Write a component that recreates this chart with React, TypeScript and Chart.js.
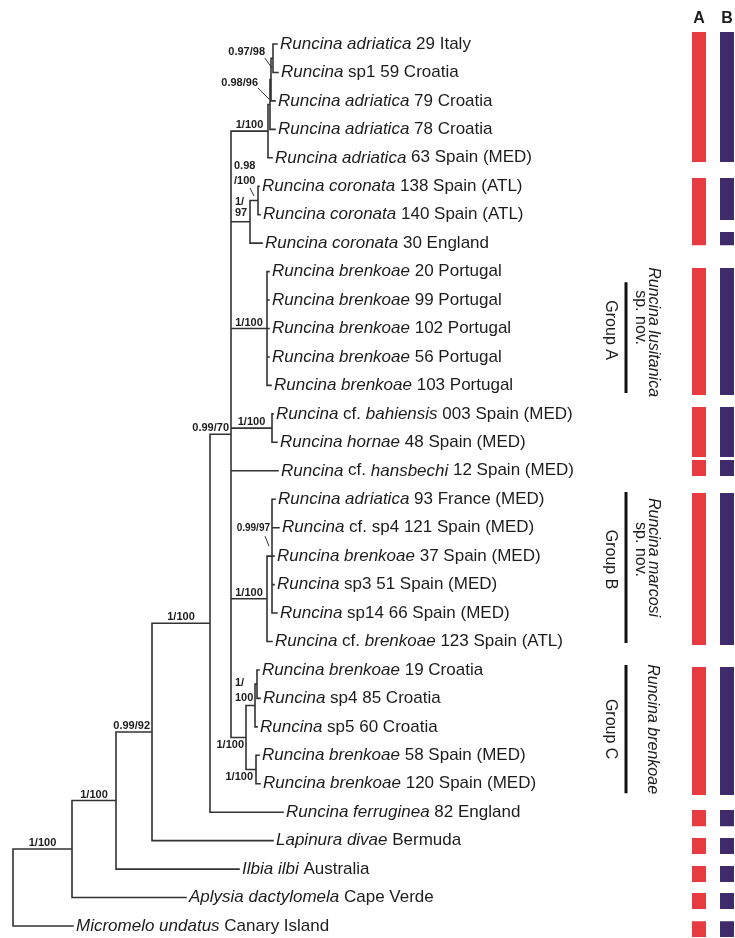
import React, { useEffect, useRef } from "react";
import { Chart, registerables } from "chart.js";

Chart.register(...registerables);

// ---------------- DATA ----------------
// Leaf labels (text between * is italic), top to bottom
const taxa: string[] = [
  "*Runcina adriatica* 29 Italy",
  "*Runcina* sp1 59 Croatia",
  "*Runcina adriatica* 79 Croatia",
  "*Runcina adriatica* 78 Croatia",
  "*Runcina adriatica* 63 Spain (MED)",
  "*Runcina coronata* 138 Spain (ATL)",
  "*Runcina coronata* 140 Spain (ATL)",
  "*Runcina coronata* 30 England",
  "*Runcina brenkoae* 20 Portugal",
  "*Runcina brenkoae* 99 Portugal",
  "*Runcina brenkoae* 102 Portugal",
  "*Runcina brenkoae* 56 Portugal",
  "*Runcina brenkoae* 103 Portugal",
  "*Runcina* cf. *bahiensis* 003 Spain (MED)",
  "*Runcina hornae* 48 Spain (MED)",
  "*Runcina* cf. *hansbechi* 12 Spain (MED)",
  "*Runcina adriatica* 93 France (MED)",
  "*Runcina* cf. sp4 121 Spain (MED)",
  "*Runcina brenkoae* 37 Spain (MED)",
  "*Runcina* sp3 51 Spain (MED)",
  "*Runcina* sp14 66 Spain (MED)",
  "*Runcina* cf. *brenkoae* 123 Spain (ATL)",
  "*Runcina brenkoae* 19 Croatia",
  "*Runcina* sp4 85 Croatia",
  "*Runcina* sp5 60 Croatia",
  "*Runcina brenkoae* 58 Spain (MED)",
  "*Runcina brenkoae* 120 Spain (MED)",
  "*Runcina ferruginea* 82 England",
  "*Lapinura divae* Bermuda",
  "*Ilbia ilbi* Australia",
  "*Aplysia dactylomela* Cape Verde",
  "*Micromelo undatus* Canary Island",
];

// Depth (distance from root) of each leaf tip
const tipDepth: number[] = [
  2.64, 2.65, 2.62, 2.62, 2.59, 2.46, 2.47, 2.49, 2.56, 2.56, 2.56, 2.56, 2.58,
  2.6, 2.64, 2.65, 2.62, 2.66, 2.61, 2.61, 2.64, 2.59, 2.46, 2.47, 2.44, 2.46,
  2.47, 2.7, 2.6, 2.26, 1.73, 0.6,
];

// Internal nodes
const nodeIds: string[] = [
  "R", "N1", "N2", "N3", "N4", "N5", "Nadr", "Nc", "Nb", "Na", "Ncor", "Ncor2",
  "Npor", "Nbah", "NgB", "NgB2", "NgC", "Ncro", "Ncro2", "Nspa",
];
const nodeDepth: number[] = [
  0, 0.59, 1.03, 1.39, 1.97, 2.18, 2.55, 2.57, 2.58, 2.6, 2.37, 2.45, 2.54,
  2.59, 2.54, 2.59, 2.33, 2.42, 2.44, 2.43,
];
const nodeChildren: string[][] = [
  ["N1", "L31"],
  ["N2", "L30"],
  ["N3", "L29"],
  ["N4", "L28"],
  ["N5", "L27"],
  ["Nadr", "Ncor", "Npor", "Nbah", "L15", "NgB", "NgC"],
  ["Nc", "L4"],
  ["Nb", "L3"],
  ["Na", "L2"],
  ["L0", "L1"],
  ["Ncor2", "L7"],
  ["L5", "L6"],
  ["L8", "L9", "L10", "L11", "L12"],
  ["L13", "L14"],
  ["NgB2", "L21"],
  ["L16", "L17", "L18", "L19", "L20"],
  ["Ncro", "Nspa"],
  ["Ncro2", "L24"],
  ["L22", "L23"],
  ["L25", "L26"],
];
const nodeSupport: string[] = [
  "", "1/100", "1/100", "0.99/92", "1/100", "0.99/70", "1/100", "", "0.98/96",
  "0.97/98", "1/\n97", "0.98\n/100", "1/100", "1/100", "1/100", "0.99/97",
  "1/100", "1/\n100", "", "1/100",
];

// Marker columns A and B: extents in leaf-row units
const columnHeaders: string[] = ["A", "B"];
const markerA: [number, number][] = [
  [-0.42, 4.15], [4.71, 7.07], [7.87, 12.34], [12.76, 14.52], [14.62, 15.18],
  [15.78, 21.12], [21.9, 26.4], [26.92, 27.49], [27.91, 28.47], [28.89, 29.45],
  [29.84, 30.4], [30.83, 31.39],
];
const markerB: [number, number][] = [
  [-0.42, 4.15], [4.71, 6.19], [6.61, 7.07], [7.87, 12.34], [12.76, 14.52],
  [14.62, 15.18], [15.78, 21.12], [21.9, 26.4], [26.92, 27.49], [27.91, 28.47],
  [28.89, 29.45], [29.84, 30.4], [30.83, 31.39],
];

// Named clades (right side)
const cladeNames: string[] = ["Runcina lusitanica", "Runcina marcosi", "Runcina brenkoae"];
const cladeSub: string[] = ["sp. nov.", "sp. nov.", ""];
const cladeGroups: string[] = ["Group A", "Group B", "Group C"];
const cladeSpans: [number, number][] = [[8.37, 12.27], [15.75, 21.05], [21.83, 26.33]];

// ---------------- LAYOUT / STYLE ----------------
const W = 735;
const H = 938;
const FONT = '"Liberation Sans", Arial, sans-serif';
const X_MIN = -0.13;
const X_MAX = 7.22;
const Y_MIN = -1.5466;
const Y_MAX = 31.4218;
const COL_X = [6.86, 7.14];
const CLADE_BAR_X = 6.13;
const RED = "#e63b41";
const PURPLE = "#3f2b69";
const LINE = "#333333";
const TEXT = "#1c1c1c";

type Pos = { x: number; y: number };

function buildTree() {
  const pos: Record<string, Pos> = {};
  const parentOf: Record<string, string> = {};
  nodeIds.forEach((id, i) => nodeChildren[i].forEach((c) => (parentOf[c] = id)));
  const get = (id: string): Pos => {
    if (pos[id]) return pos[id];
    if (id[0] === "L") {
      const i = parseInt(id.slice(1), 10);
      pos[id] = { x: tipDepth[i], y: i };
    } else {
      const i = nodeIds.indexOf(id);
      const ch = nodeChildren[i].map(get);
      pos[id] = { x: nodeDepth[i], y: (ch[0].y + ch[ch.length - 1].y) / 2 };
    }
    return pos[id];
  };
  nodeIds.forEach(get);
  taxa.forEach((_, i) => get("L" + i));
  const segs: any[] = [];
  nodeIds.forEach((id, i) => {
    const p = pos[id];
    const ch = nodeChildren[i].map((c) => pos[c]);
    segs.push({ x: p.x, y: ch[0].y }, { x: p.x, y: ch[ch.length - 1].y }, { x: p.x, y: null });
    ch.forEach((c) => {
      segs.push({ x: p.x, y: c.y }, { x: c.x, y: c.y }, { x: c.x, y: null });
    });
  });
  return { pos, parentOf, segs };
}

const columnData = (x: number, spans: [number, number][]) =>
  spans.flatMap(([a, b]) => [{ x, y: a }, { x, y: b }, { x, y: null }]);

// special placements for support labels (pixel offsets from node)
const special: Record<string, { align: CanvasTextAlign; dx: number; dy: number[]; lead?: number[]; size?: number }> = {
  Na: { align: "right", dx: -8, dy: [-6], lead: [-8, 0, -1, 10] },
  Nb: { align: "right", dx: -13, dy: [3.5], lead: [-13, 8.5, -2, 19.5] },
  Ncor2: { align: "left", dx: -24, dy: [-34.5, -19.5], lead: [-8, -12.5, -4, -4.5] },
  Ncor: { align: "left", dx: -15, dy: [-20, -9] },
  Ncro: { align: "left", dx: -20, dy: [-22.6, -7.6] },
  NgC: { align: "right", dx: -2, dy: [7.5] },
  Nspa: { align: "right", dx: -3, dy: [7.5] },
  NgB2: { align: "right", dx: -2, dy: [-28], lead: [-7, -20, -3, -10], size: 10 },
};
const cladeTextOffsets = [
  { name: -5.5, sub: -20, group: -7.5 },
  { name: -10, sub: -18, group: -8 },
  { name: 0, sub: 0, group: 0 },
];

export default function App() {
  const ref = useRef<HTMLCanvasElement | null>(null);

  useEffect(() => {
    document.body.style.margin = "0";
    const canvas = ref.current;
    if (!canvas) return;
    const { pos, parentOf, segs } = buildTree();

    const bgPlugin = {
      id: "bg",
      beforeDraw(chart: any) {
        const c = chart.ctx;
        c.save();
        c.fillStyle = "#ffffff";
        c.fillRect(0, 0, chart.width, chart.height);
        c.restore();
      },
    };

    const textPlugin = {
      id: "treeText",
      afterDatasetsDraw(chart: any) {
        const c: CanvasRenderingContext2D = chart.ctx;
        const xs = chart.scales.x;
        const ys = chart.scales.y;
        c.save();
        c.fillStyle = TEXT;
        // leaf labels
        c.textBaseline = "middle";
        c.textAlign = "left";
        taxa.forEach((t, i) => {
          let cx = xs.getPixelForValue(tipDepth[i]) + 3;
          const cy = ys.getPixelForValue(i);
          t.split("*").forEach((part, k) => {
            if (!part) return;
            c.font = `${k % 2 === 1 ? "italic " : ""}17px ${FONT}`;
            c.fillText(part, cx, cy);
            cx += c.measureText(part).width;
          });
        });
        // support values
        c.strokeStyle = LINE;
        c.lineWidth = 1;
        nodeIds.forEach((id, i) => {
          const label = nodeSupport[i];
          if (!label) return;
          const p = pos[id];
          const nx = xs.getPixelForValue(p.x);
          const ny = ys.getPixelForValue(p.y);
          const sp = special[id];
          if (sp) {
            c.font = `bold ${sp.size || 11}px ${FONT}`;
            c.textAlign = sp.align;
            c.textBaseline = "middle";
            label.split("\n").forEach((line, k) => {
              c.fillText(line, nx + sp.dx, ny + sp.dy[k]);
            });
            if (sp.lead) {
              c.beginPath();
              c.moveTo(nx + sp.lead[0], ny + sp.lead[1]);
              c.lineTo(nx + sp.lead[2], ny + sp.lead[3]);
              c.stroke();
            }
          } else {
            c.font = `bold 11px ${FONT}`;
            c.textAlign = "center";
            c.textBaseline = "alphabetic";
            const parent = pos[parentOf[id]];
            const ppx = xs.getPixelForValue(parent.x);
            const w = c.measureText(label).width;
            let cx = (ppx + nx) / 2;
            const over = cx + w / 2 - (nx - 2);
            if (over > 0) cx -= over;
            c.fillText(label, cx, ny - 3);
          }
        });
        // column headers
        c.font = `bold 16px ${FONT}`;
        c.textAlign = "center";
        c.textBaseline = "middle";
        columnHeaders.forEach((h, k) => {
          c.fillText(h, xs.getPixelForValue(COL_X[k]), 19);
        });
        // clade names (rotated)
        const barPx = xs.getPixelForValue(CLADE_BAR_X);
        cladeNames.forEach((name, k) => {
          const mid = (ys.getPixelForValue(cladeSpans[k][0]) + ys.getPixelForValue(cladeSpans[k][1])) / 2;
          const off = cladeTextOffsets[k];
          const put = (txt: string, x: number, y: number, italic: boolean) => {
            if (!txt) return;
            c.save();
            c.translate(x, y);
            c.rotate(Math.PI / 2);
            c.font = `${italic ? "italic " : ""}16px ${FONT}`;
            c.textAlign = "center";
            c.textBaseline = "middle";
            c.fillText(txt, 0, 0);
            c.restore();
          };
          const hasSub = !!cladeSub[k];
          put(name, barPx + (hasSub ? 27 : 26), mid + off.name, true);
          put(cladeSub[k], barPx + 14, mid + off.sub, false);
          put(cladeGroups[k], barPx - 16, mid + off.group, false);
        });
        c.restore();
      },
    };

    const chart = new Chart(canvas, {
      type: "line",
      data: {
        datasets: [
          {
            label: "branches",
            data: segs,
            borderColor: LINE,
            borderWidth: 1.6,
            pointRadius: 0,
            spanGaps: false,
            tension: 0,
            borderCapStyle: "square",
            borderJoinStyle: "miter",
          },
          {
            label: "A",
            data: columnData(COL_X[0], markerA),
            borderColor: RED,
            borderWidth: 14,
            pointRadius: 0,
            spanGaps: false,
            borderCapStyle: "butt",
          },
          {
            label: "B",
            data: columnData(COL_X[1], markerB),
            borderColor: PURPLE,
            borderWidth: 14,
            pointRadius: 0,
            spanGaps: false,
            borderCapStyle: "butt",
          },
          {
            label: "clades",
            data: columnData(CLADE_BAR_X, cladeSpans),
            borderColor: "#111111",
            borderWidth: 3,
            pointRadius: 0,
            spanGaps: false,
            borderCapStyle: "butt",
          },
        ] as any,
      },
      options: {
        animation: false,
        responsive: false,
        events: [],
        layout: { padding: 0 },
        plugins: { legend: { display: false }, tooltip: { enabled: false }, title: { display: false } },
        scales: {
          x: { type: "linear", min: X_MIN, max: X_MAX, display: false },
          y: { type: "linear", min: Y_MIN, max: Y_MAX, reverse: true, display: false },
        },
      },
      plugins: [bgPlugin, textPlugin],
    });
    return () => chart.destroy();
  }, []);

  return (
    <div style={{ width: W, height: H, background: "#fff" }}>
      <canvas ref={ref} width={W} height={H} style={{ display: "block" }} />
    </div>
  );
}
